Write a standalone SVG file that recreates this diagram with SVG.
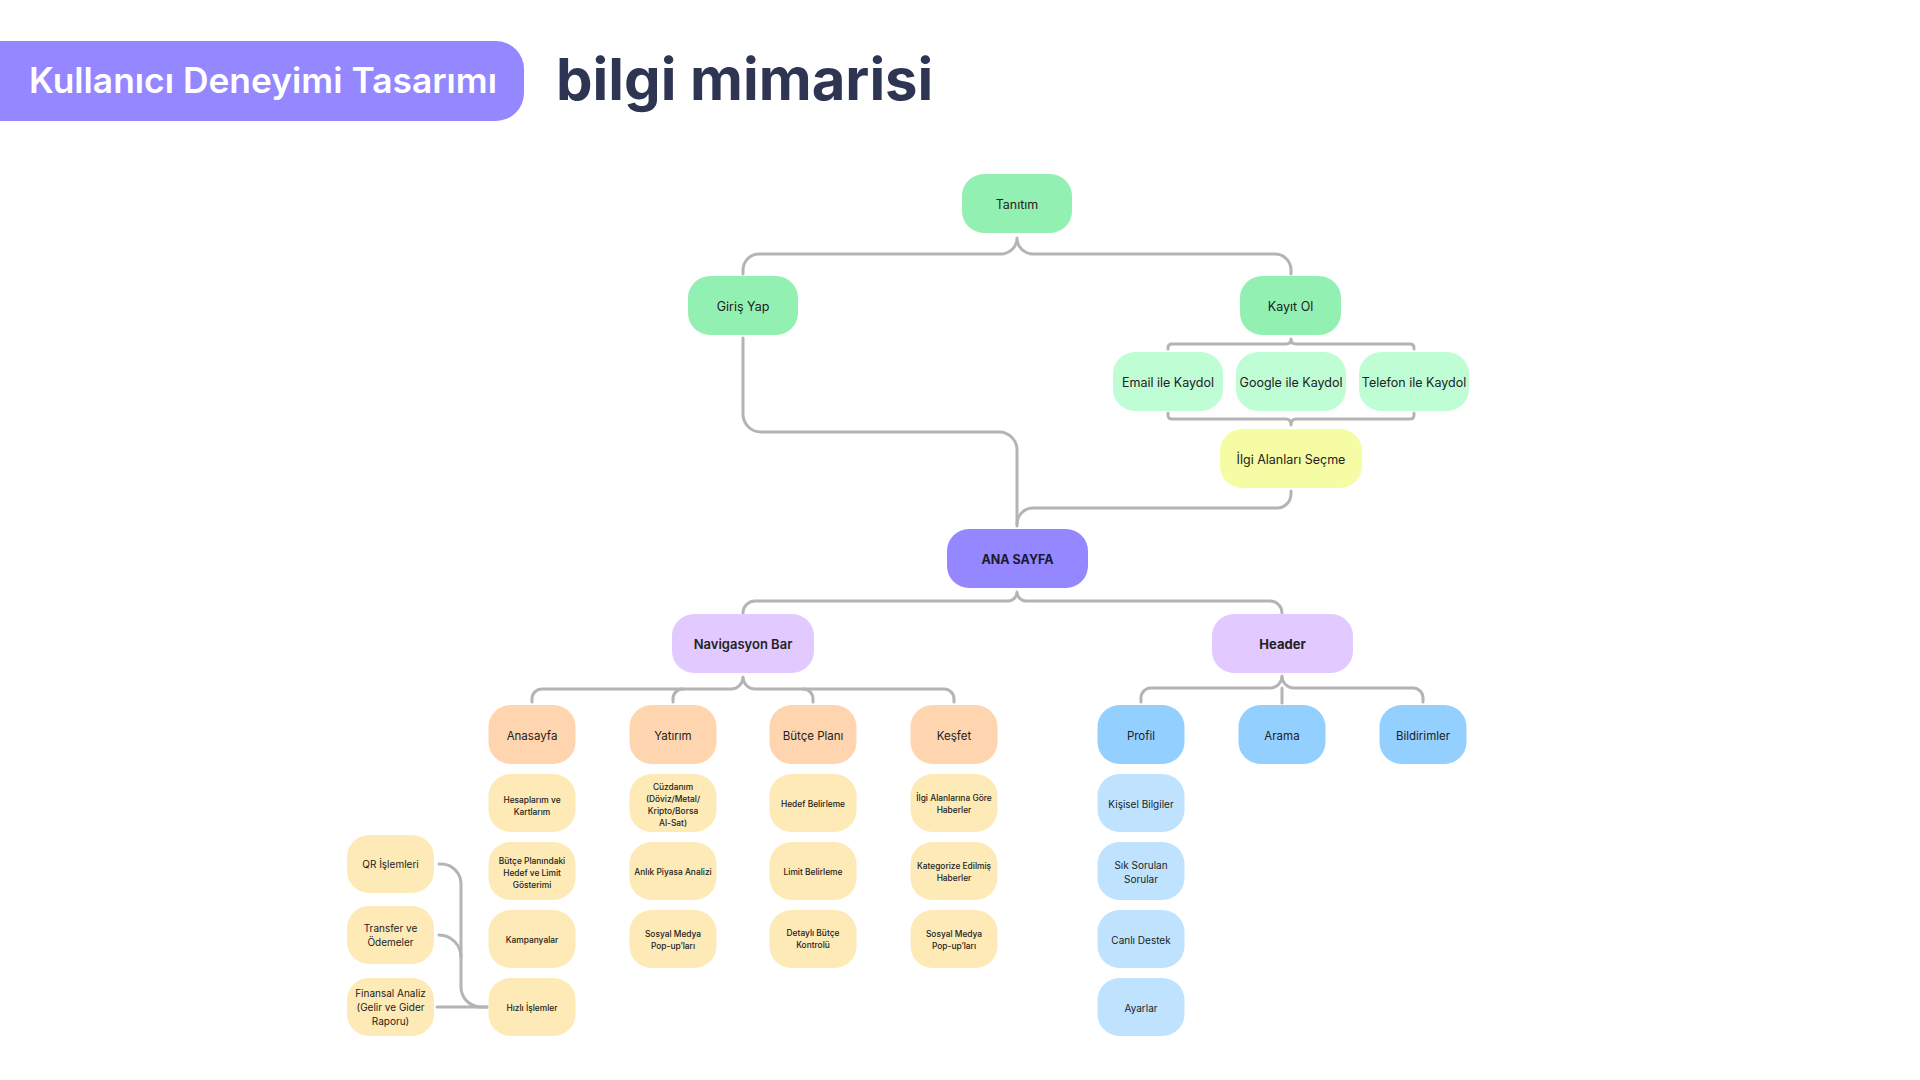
<svg xmlns="http://www.w3.org/2000/svg" width="1920" height="1080" viewBox="0 0 1920 1080">
<style>
text{font-family:Inter,"Noto Sans","Liberation Sans",sans-serif;fill:#222;text-anchor:middle}
.c{fill:none;stroke:#B4B4B4;stroke-width:3;stroke-linecap:round;stroke-linejoin:round}
.g1{fill:#93F0B3}.g2{fill:#BFFDD4}.y1{fill:#F6FCA4}.p1{fill:#9587FF}.p2{fill:#E2C9FF}
.o1{fill:#FFD5B0}.o2{fill:#FEEAB6}.b1{fill:#93D0FF}.b2{fill:#BFE3FF}
.t13{font-size:12.5px}.t115{font-size:11.5px}.t10{font-size:10px}.t85{font-size:8.4px;font-weight:500}
.bd{font-weight:600;font-size:13px}
</style>
<rect width="1920" height="1080" fill="#FFFFFF"/>
<g id="title">
<path d="M0,41 H496 A28,28 0 0 1 524,69 V93 A28,28 0 0 1 496,121 H0 Z" fill="#9587FF"/>
<text x="29" y="93" style="text-anchor:start;font-size:35px;font-weight:600;fill:#FFFFFF" textLength="468" lengthAdjust="spacingAndGlyphs">Kullanıcı Deneyimi Tasarımı</text>
<text x="556" y="100" style="text-anchor:start;font-size:58px;font-weight:700;fill:#2E3553">bilgi mimarisi</text>
</g>
<g id="connectors">
<path class="c" d="M743,274 V270 A16,16 0 0 1 759,254 H1001 A16,16 0 0 0 1017,238 A16,16 0 0 0 1033,254 H1275 A16,16 0 0 1 1291,270 V274"/>
<path class="c" d="M743,338 V414 A18,18 0 0 0 761,432 H999 A18,18 0 0 1 1017,450 V526"/>
<path class="c" d="M1291,491 V494 A14,14 0 0 1 1277,508 H1033 A16,16 0 0 0 1017,524"/>
<path class="c" d="M1168,349 V348 Q1168,344 1172,344 H1286 Q1291,344 1291,339 Q1291,344 1296,344 H1410 Q1414,344 1414,348 V349"/>
<path class="c" d="M1168,413 V415 Q1168,419 1172,419 H1286 Q1291,419 1291,425 Q1291,419 1296,419 H1410 Q1414,419 1414,415 V413"/>
<path class="c" d="M743,611 V613 A12,12 0 0 1 755,601 H1008 A9,9 0 0 0 1017,592 A9,9 0 0 0 1026,601 H1270 A12,12 0 0 1 1282,613"/>
<path class="c" d="M532,702 V699 A10,10 0 0 1 542,689 H731 A12,12 0 0 0 743,677 A12,12 0 0 0 755,689 H944 A10,10 0 0 1 954,699 V702"/>
<path class="c" d="M673,702 V699 A10,10 0 0 1 683,689"/>
<path class="c" d="M813,702 V699 A10,10 0 0 0 803,689"/>
<path class="c" d="M1141,702 V698 A10,10 0 0 1 1151,688 H1270 A12,12 0 0 0 1282,676 A12,12 0 0 0 1294,688 H1413 A10,10 0 0 1 1423,698 V702"/>
<path class="c" d="M1282,688 V703"/>
<path class="c" d="M439,864 H441 A20,20 0 0 1 461,884 V987 A20,20 0 0 0 481,1007 H487"/>
<path class="c" d="M439,935 A22,22 0 0 1 461,957"/>
<path class="c" d="M437,1007 H487"/>
</g>
<g id="n-tanitim"><rect class="g1" x="962" y="174" width="110" height="59" rx="22"/><text class="t13" x="1017" y="209">Tanıtım</text></g>
<g id="n-giris"><rect class="g1" x="688" y="276" width="110" height="59" rx="22"/><text class="t13" x="743" y="311">Giriş Yap</text></g>
<g id="n-kayit"><rect class="g1" x="1240" y="276" width="101" height="59" rx="22"/><text class="t13" x="1290.5" y="311">Kayıt Ol</text></g>
<g id="n-email"><rect class="g2" x="1113" y="352" width="110" height="59" rx="22"/><text class="t13" x="1168" y="387">Email ile Kaydol</text></g>
<g id="n-google"><rect class="g2" x="1236" y="352" width="110" height="59" rx="22"/><text class="t13" x="1291" y="387">Google ile Kaydol</text></g>
<g id="n-telefon"><rect class="g2" x="1359" y="352" width="110" height="59" rx="22"/><text class="t13" x="1414" y="387">Telefon ile Kaydol</text></g>
<g id="n-ilgi"><rect class="y1" x="1220" y="429" width="142" height="59" rx="22"/><text class="t13" x="1291" y="464">İlgi Alanları Seçme</text></g>
<g id="n-anasayfa-main"><rect class="p1" x="947" y="529" width="141" height="59" rx="22"/><text x="1017.5" y="564" style="font-size:12.5px;font-weight:700;fill:#1B1B2E">ANA SAYFA</text></g>
<g id="n-nav"><rect class="p2" x="672" y="614" width="142" height="59" rx="22"/><text class="bd" x="743" y="649">Navigasyon Bar</text></g>
<g id="n-header"><rect class="p2" x="1212" y="614" width="141" height="59" rx="22"/><text class="bd" x="1282.5" y="649" style="font-weight:700">Header</text></g>
<g id="n-anasayfa"><rect class="o1" x="488.5" y="705" width="87" height="59" rx="22"/><text class="t115" x="532" y="740">Anasayfa</text></g>
<g id="n-yatirim"><rect class="o1" x="629.5" y="705" width="87" height="59" rx="22"/><text class="t115" x="673" y="740">Yatırım</text></g>
<g id="n-butce"><rect class="o1" x="769.5" y="705" width="87" height="59" rx="22"/><text class="t115" x="813" y="740">Bütçe Planı</text></g>
<g id="n-kesfet"><rect class="o1" x="910.5" y="705" width="87" height="59" rx="22"/><text class="t115" x="954" y="740">Keşfet</text></g>
<g id="n-profil"><rect class="b1" x="1097.5" y="705" width="87" height="59" rx="22"/><text class="t115" x="1141" y="740">Profil</text></g>
<g id="n-arama"><rect class="b1" x="1238.5" y="705" width="87" height="59" rx="22"/><text class="t115" x="1282" y="740">Arama</text></g>
<g id="n-bildirim"><rect class="b1" x="1379.5" y="705" width="87" height="59" rx="22"/><text class="t115" x="1423" y="740">Bildirimler</text></g>
<g id="n-hesap"><rect class="o2" x="488.5" y="774" width="87" height="58" rx="22"/><text class="t85" x="532"><tspan x="532" y="803">Hesaplarım ve</tspan><tspan x="532" y="815">Kartlarım</tspan></text></g>
<g id="n-butcehedef"><rect class="o2" x="488.5" y="842" width="87" height="58" rx="22"/><text class="t85" x="532"><tspan x="532" y="864">Bütçe Planındaki</tspan><tspan x="532" y="876">Hedef ve Limit</tspan><tspan x="532" y="888">Gösterimi</tspan></text></g>
<g id="n-kampanya"><rect class="o2" x="488.5" y="910" width="87" height="58" rx="22"/><text class="t85" x="532" y="942.5">Kampanyalar</text></g>
<g id="n-hizli"><rect class="o2" x="488.5" y="978" width="87" height="58" rx="22"/><text class="t85" x="532" y="1010.5">Hızlı İşlemler</text></g>
<g id="n-cuzdan"><rect class="o2" x="629.5" y="774" width="87" height="58" rx="22"/><text class="t85" x="673"><tspan x="673" y="790">Cüzdanım</tspan><tspan x="673" y="802">(Döviz/Metal/</tspan><tspan x="673" y="814">Kripto/Borsa</tspan><tspan x="673" y="826">Al-Sat)</tspan></text></g>
<g id="n-piyasa"><rect class="o2" x="629.5" y="842" width="87" height="58" rx="22"/><text class="t85" x="673" y="874.5">Anlık Piyasa Analizi</text></g>
<g id="n-sosyal1"><rect class="o2" x="629.5" y="910" width="87" height="58" rx="22"/><text class="t85" x="673"><tspan x="673" y="937">Sosyal Medya</tspan><tspan x="673" y="949">Pop-up’ları</tspan></text></g>
<g id="n-hedef"><rect class="o2" x="769.5" y="774" width="87" height="58" rx="22"/><text class="t85" x="813" y="806.5">Hedef Belirleme</text></g>
<g id="n-limit"><rect class="o2" x="769.5" y="842" width="87" height="58" rx="22"/><text class="t85" x="813" y="874.5">Limit Belirleme</text></g>
<g id="n-detay"><rect class="o2" x="769.5" y="910" width="87" height="58" rx="22"/><text class="t85" x="813"><tspan x="813" y="936">Detaylı Bütçe</tspan><tspan x="813" y="948">Kontrolü</tspan></text></g>
<g id="n-haber"><rect class="o2" x="910.5" y="774" width="87" height="58" rx="22"/><text class="t85" x="954"><tspan x="954" y="801">İlgi Alanlarına Göre</tspan><tspan x="954" y="813">Haberler</tspan></text></g>
<g id="n-kategori"><rect class="o2" x="910.5" y="842" width="87" height="58" rx="22"/><text class="t85" x="954"><tspan x="954" y="869">Kategorize Edilmiş</tspan><tspan x="954" y="881">Haberler</tspan></text></g>
<g id="n-sosyal2"><rect class="o2" x="910.5" y="910" width="87" height="58" rx="22"/><text class="t85" x="954"><tspan x="954" y="937">Sosyal Medya</tspan><tspan x="954" y="949">Pop-up’ları</tspan></text></g>
<g id="n-kisisel"><rect class="b2" x="1097.5" y="774" width="87" height="58" rx="22"/><text class="t10" x="1141" y="807.5">Kişisel Bilgiler</text></g>
<g id="n-sss"><rect class="b2" x="1097.5" y="842" width="87" height="58" rx="22"/><text class="t10" x="1141"><tspan x="1141" y="868.5">Sık Sorulan</tspan><tspan x="1141" y="882.5">Sorular</tspan></text></g>
<g id="n-canli"><rect class="b2" x="1097.5" y="910" width="87" height="58" rx="22"/><text class="t10" x="1141" y="943.5">Canlı Destek</text></g>
<g id="n-ayarlar"><rect class="b2" x="1097.5" y="978" width="87" height="58" rx="22"/><text class="t10" x="1141" y="1011.5">Ayarlar</text></g>
<g id="n-qr"><rect class="o2" x="347" y="835" width="87" height="58" rx="22"/><text class="t10" x="390.5" y="868">QR İşlemleri</text></g>
<g id="n-transfer"><rect class="o2" x="347" y="906" width="87" height="58" rx="22"/><text class="t10" x="390.5"><tspan x="390.5" y="932">Transfer ve</tspan><tspan x="390.5" y="946">Ödemeler</tspan></text></g>
<g id="n-finans"><rect class="o2" x="347" y="978" width="87" height="58" rx="22"/><text class="t10" x="390.5"><tspan x="390.5" y="997">Finansal Analiz</tspan><tspan x="390.5" y="1011">(Gelir ve Gider</tspan><tspan x="390.5" y="1025">Raporu)</tspan></text></g>
</svg>
